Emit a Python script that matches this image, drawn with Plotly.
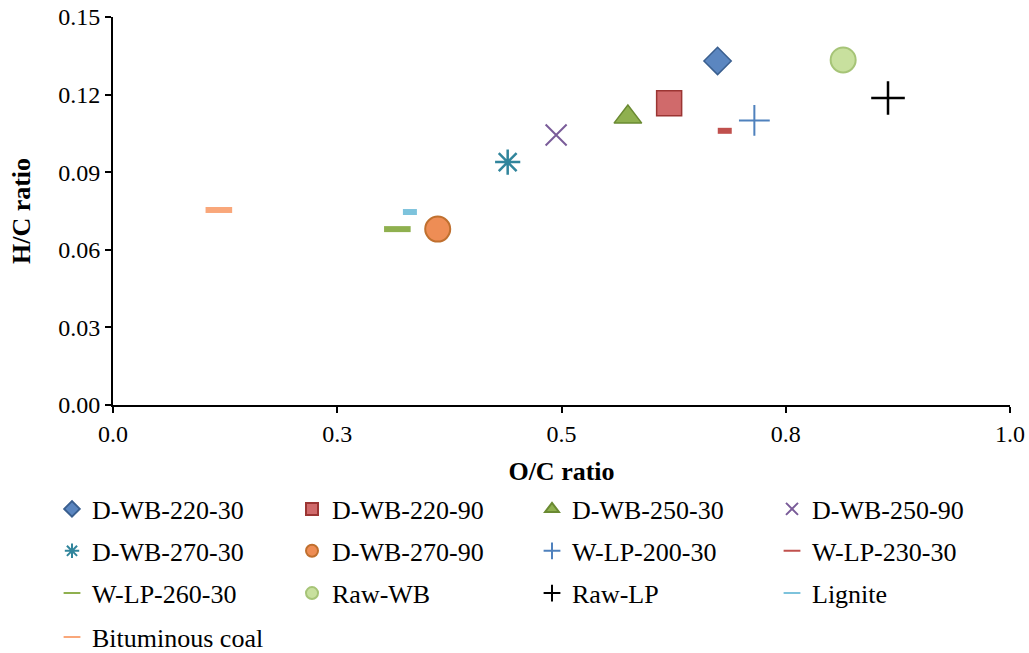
import plotly.graph_objects as go

names = ["D-WB-220-30", "D-WB-220-90", "D-WB-250-30", "D-WB-250-90",
         "D-WB-270-30", "D-WB-270-90", "W-LP-200-30", "W-LP-230-30",
         "W-LP-260-30", "Raw-WB", "Raw-LP", "Lignite", "Bituminous coal"]
oc_ratio = [0.674, 0.620, 0.574, 0.494, 0.440, 0.362, 0.715, 0.682,
            0.317, 0.814, 0.864, 0.331, 0.118]
hc_ratio = [0.133, 0.1167, 0.1113, 0.1044, 0.0939, 0.0680, 0.1100, 0.1060,
            0.0680, 0.1334, 0.1187, 0.0746, 0.0754]

x_tickvals = [0.0, 0.25, 0.5, 0.75, 1.0]
x_ticktext = ["0.0", "0.3", "0.5", "0.8", "1.0"]
y_tickvals = [0.0, 0.03, 0.06, 0.09, 0.12, 0.15]

styles = [
    dict(symbol="diamond", size=21, color="#5B86C0", line=dict(color="#3A5F8F", width=1.5)),
    dict(symbol="square", size=25, color="#D06A6B", line=dict(color="#9B3533", width=1.5)),
    dict(symbol="triangle-up", size=24, color="#8FB04F", line=dict(color="#6A8A32", width=1.5)),
    dict(symbol="x-thin-open", size=21, color="#7A5C99", line=dict(color="#7A5C99", width=2)),
    dict(symbol="asterisk-open", size=21, color="#31859C", line=dict(color="#31859C", width=2.5)),
    dict(symbol="circle", size=25, color="#EE8D55", line=dict(color="#C0702F", width=2)),
    dict(symbol="cross-thin-open", size=22, color="#4F81BD", line=dict(color="#4F81BD", width=2)),
    dict(symbol="line-ew-open", size=10, color="#C0504D", line=dict(color="#C0504D", width=6)),
    dict(symbol="line-ew-open", size=19, color="#8FB04F", line=dict(color="#8FB04F", width=6)),
    dict(symbol="circle", size=25, color="#C8E09E", line=dict(color="#A6C477", width=2)),
    dict(symbol="cross-thin-open", size=24, color="#000000", line=dict(color="#000000", width=2.5)),
    dict(symbol="line-ew-open", size=10, color="#7DC3DC", line=dict(color="#7DC3DC", width=6)),
    dict(symbol="line-ew-open", size=19, color="#F9A77A", line=dict(color="#F9A77A", width=6)),
]

legend_ids = ["legend", "legend2", "legend3", "legend4"]

fig = go.Figure()
for i, (n, xv, yv, st) in enumerate(zip(names, oc_ratio, hc_ratio, styles)):
    fig.add_trace(go.Scatter(
        x=[xv], y=[yv], mode="markers", name=n,
        marker=dict(symbol=st["symbol"], size=st["size"], color=st["color"], line=st["line"]),
        legend=legend_ids[i // 4],
    ))

font_family = "Liberation Serif"
row_y = [-0.268, -0.376, -0.485, -0.598]
leg_common = dict(orientation="h", x=-0.068, xanchor="left", yanchor="middle",
                  entrywidth=195, itemsizing="constant", itemwidth=30,
                  font=dict(family=font_family, size=26, color="#000000"),
                  bgcolor="rgba(0,0,0,0)", traceorder="normal")

layout_legends = {lid: dict(y=ry, **leg_common) for lid, ry in zip(legend_ids, row_y)}

axis_common = dict(showline=True, linecolor="#000000", linewidth=2, ticks="outside",
                   ticklen=6, tickwidth=1.5, tickcolor="#000000", showgrid=False,
                   zeroline=False, mirror=False,
                   tickfont=dict(family=font_family, size=24, color="#000000"))

fig.update_layout(
    width=1029, height=653,
    margin=dict(l=113, r=19, t=17, b=248, autoexpand=False),
    paper_bgcolor="white", plot_bgcolor="white",
    font=dict(family=font_family, color="#000000"),
    showlegend=True,
    xaxis=dict(range=[0, 1.0], tickvals=x_tickvals, ticktext=x_ticktext,
               title=dict(text="<b>O/C ratio</b>", font=dict(family=font_family, size=26, color="#000000"), standoff=16),
               **axis_common),
    yaxis=dict(range=[0, 0.15], tickvals=y_tickvals, tickformat=".2f",
               title=dict(text="<b>H/C ratio</b>", font=dict(family=font_family, size=26, color="#000000"), standoff=20),
               **axis_common),
    **layout_legends,
)

fig.write_html("out.html")
